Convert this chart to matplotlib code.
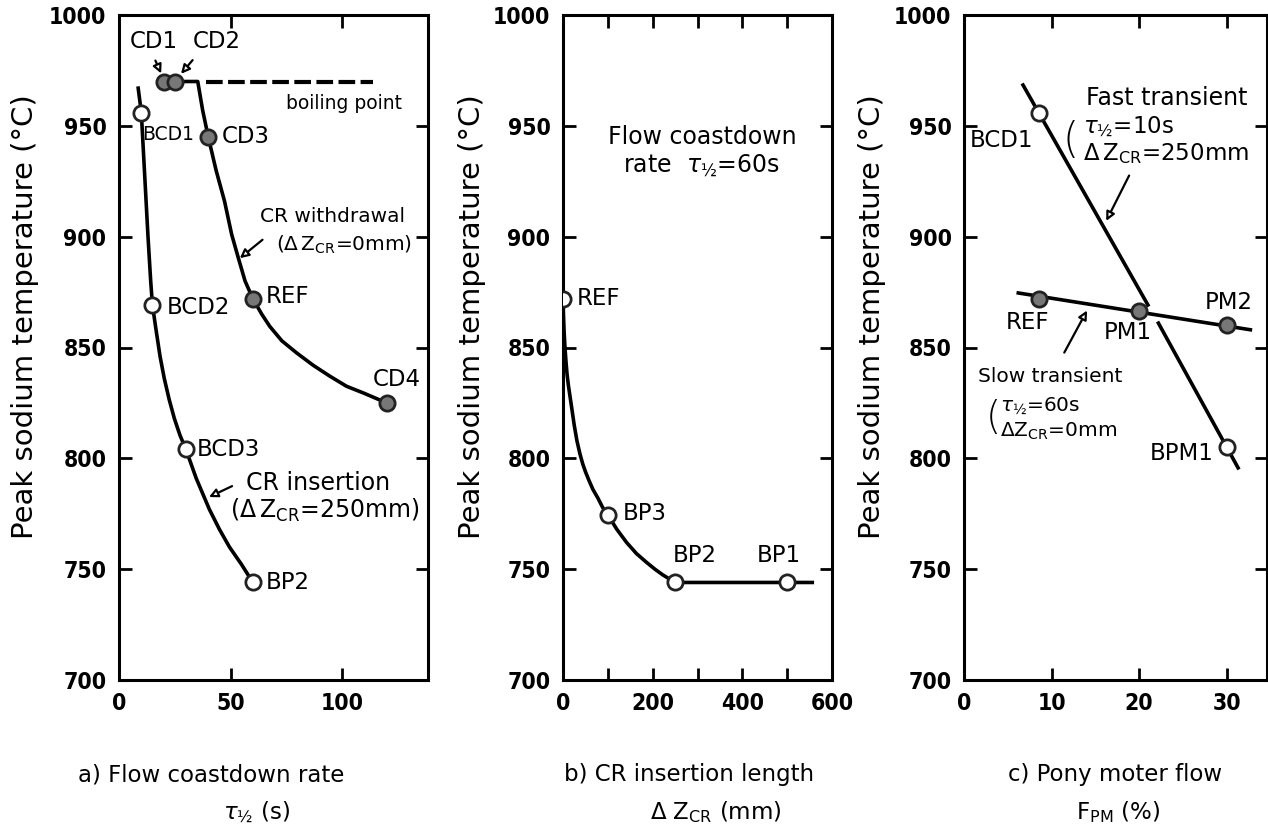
import matplotlib.pyplot as plt

W, H = 1268, 832

# ---- panel a: flow coastdown rate ----
ins_pts_x = [10, 15, 30, 60]
ins_pts_y = [956, 869, 804, 744]
ins_curve_x = [8.6, 10, 11.5, 13, 14.2, 15, 16.6, 18.4, 20.3, 22.5, 24.8, 27.3, 30, 34.6, 40.5, 45, 49.5, 55, 60]
ins_curve_y = [967, 956, 928, 900, 880, 869, 858, 846, 836, 826.5, 818, 810.5, 804, 791, 777, 768, 760, 752, 744]

wd_pts_x = [20, 25, 40, 60, 120]
wd_pts_y = [970, 970, 945, 872, 825]
wd_curve_x = [25, 35.3, 37.5, 40, 43.5, 47.3, 50.5, 53.6, 56.5, 60, 64, 67.6, 73,
              79.7, 87, 94.6, 102, 109.5, 120]
wd_curve_y = [970, 970, 957, 945, 930, 916, 901, 890, 880, 872, 865, 859.5, 853,
              847.5, 842, 837, 832.5, 829.5, 825]
boil_x = [39, 114]
boil_y = [970, 970]

# ---- panel b: CR insertion length ----
b_open_x = [0, 100, 250, 500]
b_open_y = [872, 774.5, 744, 744]
b_curve_x = [0, 1, 2.5, 4.4, 6.5, 9, 12, 15.6, 20, 25, 31, 37.8, 44, 50, 58, 66.7, 78, 88,
             100, 120, 142, 164, 186.7, 205, 222, 238, 250, 500, 556]
b_curve_y = [872, 865, 857, 850, 844, 838, 833, 828, 822, 815, 808, 802, 797.5, 794, 790, 786,
             782, 778, 774.5, 768, 762, 757, 753, 750, 747.5, 745.5, 744, 744, 744]

# ---- panel c: pony motor flow ----
fast_x1 = [6.74, 21.0]
fast_y1 = [968.4, 869.2]
fast_x2 = [22.2, 31.3]
fast_y2 = [861.0, 795.7]
slow_x = [6.2, 32.7]
slow_y = [874.6, 858.0]
c_open_x = [8.6, 30]
c_open_y = [956, 805]
c_fill_x = [8.6, 20, 30]
c_fill_y = [872, 866.5, 860]

tickfont = dict(family=['DejaVu Sans Condensed', 'Liberation Sans Narrow', 'DejaVu Sans'],
                weight='bold', size=16.5, stretch='condensed')
lab = dict(family='DejaVu Sans', size=16.5)

fig = plt.figure(figsize=(W / 100, H / 100), dpi=100)


def make_ax(x0, x1, xlim, xticks, minor=None):
    ax = fig.add_axes([x0 / W, 1 - 680 / H, (x1 - x0) / W, (680 - 15) / H])
    ax.set_xlim(*xlim)
    ax.set_ylim(700, 1000)
    ax.set_xticks(xticks)
    if minor is not None:
        ax.set_xticks(minor, minor=True)
    ax.set_yticks([700, 750, 800, 850, 900, 950, 1000])
    for s in ax.spines.values():
        s.set_linewidth(2.2)
    ax.tick_params(which='both', direction='in', length=9, width=2,
                   top=True, right=True, pad=9)
    for t in ax.get_xticklabels() + ax.get_yticklabels():
        t.set(**tickfont)
    return ax


def dot(ax, x, y, filled):
    ax.plot(x, y, 'o', ms=11, mew=2, mec='#222222',
            mfc='#777777' if filled else 'white', zorder=5, linestyle='none')


arrow = dict(arrowstyle='-|>', color='k', lw=1.6, mutation_scale=13, fc='white')

# panel a
ax = make_ax(119, 428, (0, 138.5), [0, 50, 100])
ax.plot(ins_curve_x, ins_curve_y, color='k', lw=2.6)
ax.plot(wd_curve_x, wd_curve_y, color='k', lw=2.6)
ax.plot(boil_x, boil_y, color='k', lw=3, dashes=(4, 1.3))
dot(ax, ins_pts_x, ins_pts_y, False)
dot(ax, wd_pts_x, wd_pts_y, True)
ax.text(10.4, 946, "BCD1", va='center', ha='left', family='DejaVu Sans', size=13.5)
ax.text(21.2, 868, "BCD2", va='center', ha='left', **lab)
ax.text(35, 804, "BCD3", va='center', ha='left', **lab)
ax.text(66, 744, "BP2", va='center', ha='left', **lab)
ax.text(46, 945, "CD3", va='center', ha='left', **lab)
ax.text(66, 873, "REF", va='center', ha='left', **lab)
ax.text(124.5, 835.5, "CD4", va='center', ha='center', **lab)
ax.text(15.8, 988, "CD1", va='center', ha='center', **lab)
ax.text(44, 988, "CD2", va='center', ha='center', **lab)
ax.annotate("", xy=(19.4, 972.5), xytext=(15.8, 980.6), arrowprops=arrow)
ax.annotate("", xy=(27, 972.5), xytext=(33.8, 980.6), arrowprops=arrow)
ax.text(101, 960.3, "boiling point", ha='center', va='center', size=13.5)
ax.text(95.5, 909, "CR withdrawal", ha='center', va='center', size=14.5)
ax.text(101, 896.5, r"($\Delta\,$Z$_{\mathrm{CR}}$=0mm)", ha='center', va='center', size=14.5)
ax.annotate("", xy=(53.2, 889.5), xytext=(65.3, 899.4), arrowprops=arrow)
ax.text(89, 789, "CR insertion", ha='center', va='center', size=17)
ax.text(92, 776.5, r"($\Delta\,$Z$_{\mathrm{CR}}$=250mm)", ha='center', va='center', size=17)
ax.annotate("", xy=(39.2, 782), xytext=(51.8, 788), arrowprops=arrow)

# panel b
ax = make_ax(563, 832, (0, 600), [0, 200, 400, 600], [100, 300, 500])
ax.plot(b_curve_x, b_curve_y, color='k', lw=2.6)
dot(ax, b_open_x, b_open_y, False)
ax.text(31, 872, "REF", va='center', ha='left', **lab)
ax.text(133, 775, "BP3", va='center', ha='left', **lab)
ax.text(293, 756, "BP2", va='center', ha='center', **lab)
ax.text(482, 756, "BP1", va='center', ha='center', **lab)
ax.text(311, 945, "Flow coastdown", ha='center', va='center', size=17)
ax.text(309, 932, r"rate  $\tau_{½}$=60s", ha='center', va='center', size=17)

# panel c
ax = make_ax(964, 1267, (0, 34.6), [0, 10, 20, 30])
ax.plot(fast_x1, fast_y1, color='k', lw=2.6)
ax.plot(fast_x2, fast_y2, color='k', lw=2.6)
ax.plot(slow_x, slow_y, color='k', lw=2.6)
dot(ax, c_open_x, c_open_y, False)
dot(ax, c_fill_x, c_fill_y, True)
ax.text(0.7, 943.6, "BCD1", va='center', ha='left', **lab)
ax.text(7.2, 861.5, "REF", va='center', ha='center', **lab)
ax.text(18.7, 856.6, "PM1", va='center', ha='center', **lab)
ax.text(30.2, 870.5, "PM2", va='center', ha='center', **lab)
ax.text(28.5, 802.4, "BPM1", va='center', ha='right', **lab)
ax.text(23.2, 962.6, "Fast transient", ha='center', va='center', size=17)
ax.text(12.2, 943.5, "(", ha='center', va='center', size=30, fontweight='light')
ax.text(13.6, 949.5, r"$\tau_{½}$=10s", ha='left', va='center', size=16.5)
ax.text(13.6, 937.3, r"$\Delta\,$Z$_{\mathrm{CR}}$=250mm", ha='left', va='center', size=16.5)
ax.annotate("", xy=(16.1, 906), xytext=(19, 928.7), arrowprops=arrow)
ax.text(9.8, 836.7, "Slow transient", ha='center', va='center', size=14.5)
ax.text(3.4, 818, "(", ha='center', va='center', size=28, fontweight='light')
ax.text(4.1, 824, r"$\tau_{½}$=60s", ha='left', va='center', size=14.5)
ax.text(4.1, 812, r"$\Delta$Z$_{\mathrm{CR}}$=0mm", ha='left', va='center', size=14.5)
ax.annotate("", xy=(14.2, 867.8), xytext=(11.3, 846.6), arrowprops=arrow)

# shared y labels and captions
for xc in (25, 472, 872):
    fig.text(xc / W, 1 - 317 / H, "Peak sodium temperature (°C)", rotation=90,
             ha='center', va='center', size=21)
fig.text(211 / W, 1 - 775 / H, "a) Flow coastdown rate", ha='center', va='center', size=16.5)
fig.text(256 / W, 1 - 812 / H, r"$\tau_{½}$ (s)", ha='center', va='center', size=16.5)
fig.text(689 / W, 1 - 775 / H, "b) CR insertion length", ha='center', va='center', size=16.5)
fig.text(716 / W, 1 - 812 / H, r"$\Delta$ Z$_{\mathrm{CR}}$ (mm)", ha='center', va='center', size=16.5)
fig.text(1115 / W, 1 - 775 / H, "c) Pony moter flow", ha='center', va='center', size=16.5)
fig.text(1118 / W, 1 - 812 / H, r"F$_{\mathrm{PM}}$ (%)", ha='center', va='center', size=16.5)

fig.savefig("out.png", dpi=100)
